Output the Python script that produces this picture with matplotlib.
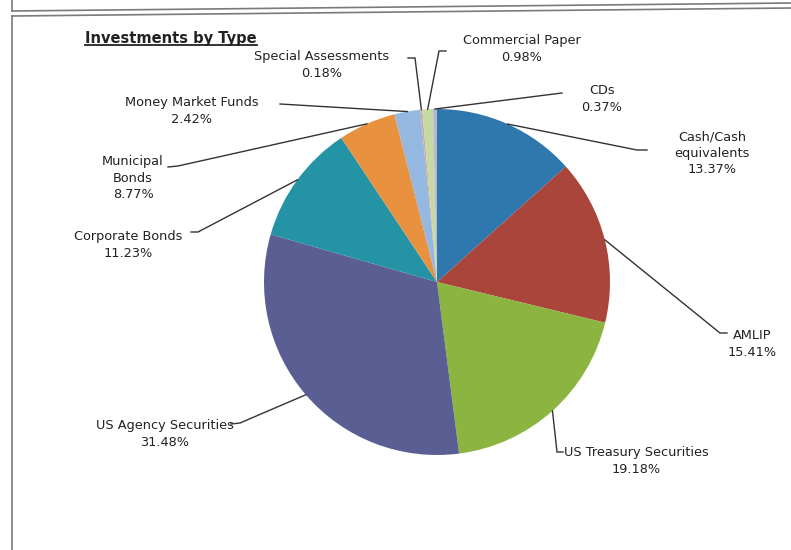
import numpy as np
import matplotlib
matplotlib.use("Agg")
import matplotlib.pyplot as plt

H = 550

# slices, clockwise from 12 o'clock
names = ["Cash/Cash\nequivalents", "AMLIP", "US Treasury Securities", "US Agency Securities",
         "Corporate Bonds", "Municipal\nBonds", "Money Market Funds", "Special Assessments",
         "Commercial Paper", "CDs"]
pct_labels = ["13.37%", "15.41%", "19.18%", "31.48%", "11.23%",
              "8.77%", "2.42%", "0.18%", "0.98%", "0.37%"]
# wedge sizes as drawn (the municipal wedge is drawn smaller than its label says)
shares = [13.37, 15.41, 19.18, 31.48, 11.23, 5.38, 2.42, 0.18, 0.98, 0.37]
colors = ["#2E78AE", "#A9453B", "#8BB440", "#5B5E92", "#2593A6",
          "#E8913E", "#94B8E0", "#D6A89C", "#C5D9A5", "#B4B6D2"]

# label centre (px from top-left) and leader elbow points, from label to wedge
label_pos = [(712, 153), (752, 344), (636, 461), (165, 434), (128, 245),
             (133, 178), (192, 111), (322, 65), (522, 49), (602, 99)]
leaders = [[(647, 150), (637, 150)],
           [(727, 333), (720, 333)],
           [(563, 452), (557, 452)],
           [(231, 424), (240, 423)],
           [(191, 232), (198, 232)],
           [(168, 167), (178, 166)],
           [(280, 104)],
           [(408, 58), (415, 58)],
           [(446, 51), (439, 51)],
           [(562, 93)]]

cx, cy, r = 437, 282, 173

fig = plt.figure(figsize=(7.91, 5.5), dpi=100)
ax = fig.add_axes([0, 0, 1, 1])
wedges, _ = ax.pie(shares, colors=colors, startangle=90, counterclock=False,
                   center=(cx, H - cy), radius=r, wedgeprops=dict(linewidth=0))
ax.set_xlim(0, 791)
ax.set_ylim(0, H)
ax.set_aspect("equal")
ax.axis("off")

for i, w in enumerate(wedges):
    mid = np.deg2rad((w.theta1 + w.theta2) / 2)
    ax_pt = (cx + r * np.cos(mid), H - cy + r * np.sin(mid))
    pts = [(x, H - y) for x, y in leaders[i]] + [ax_pt]
    ax.plot([p[0] for p in pts], [p[1] for p in pts], color="#333333", lw=1.0,
            solid_joinstyle="miter")
    tx, ty = label_pos[i]
    ax.text(tx, H - ty, names[i] + "\n" + pct_labels[i], ha="center", va="center",
            fontsize=9.3, color="#222222", linespacing=1.35, family="DejaVu Sans")

# title with underline
t = ax.text(85, H - 38, "Investments by Type", ha="left", va="center",
            fontsize=10.5, fontweight="bold", color="#222222")
fig.canvas.draw()
bb = t.get_window_extent().transformed(ax.transData.inverted())
ax.plot([bb.x0, bb.x1], [bb.y0 + 1, bb.y0 + 1], color="#222222", lw=1.3)

# scanned page frame lines
frame = "#7a7a7a"
ax.plot([12, 791], [H - 11, H - 3], color=frame, lw=1.2, clip_on=False)
ax.plot([12, 791], [H - 16, H - 8], color=frame, lw=1.2, clip_on=False)
ax.plot([12, 12], [H, H - 11], color=frame, lw=1.2, clip_on=False)
ax.plot([12, 12], [H - 16, 0], color=frame, lw=1.2, clip_on=False)

fig.savefig("out.png", dpi=100)
